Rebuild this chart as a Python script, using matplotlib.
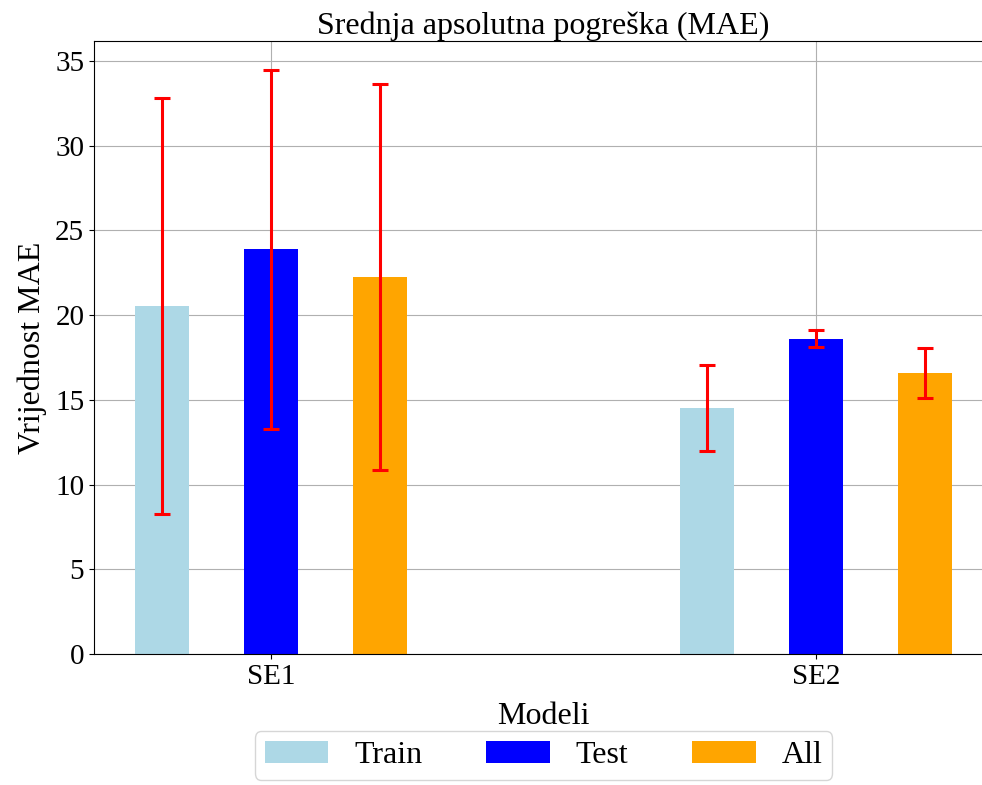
import numpy as np
from matplotlib import pyplot as plt

models = ['SE1', 'SE2']
series = ['Train', 'Test', 'All']
colors = ['lightblue', 'blue', 'orange']

train_mae = [20.54, 14.52]
test_mae = [23.87, 18.61]
all_mae = [22.24, 16.57]

train_std = [12.25, 2.52]
test_std = [10.58, 0.51]
all_std = [11.39, 1.48]

plt.rcParams['font.family'] = ['Liberation Serif', 'DejaVu Serif']
plt.rcParams['font.size'] = 21

fig = plt.figure(figsize=(9.82, 7.85), dpi=100)
ax = fig.add_axes([94 / 982, 131 / 785, 899 / 982, 613 / 785])
ax.set_axisbelow(True)

x = np.arange(len(models))
width = 0.1
offsets = [-0.2, 0.0, 0.2]
values = [train_mae, test_mae, all_mae]
errors = [train_std, test_std, all_std]

for off, vals, errs, name, col in zip(offsets, values, errors, series, colors):
    ax.bar(x + off, vals, width, yerr=errs, color=col, label=name,
           error_kw=dict(ecolor='red', elinewidth=2.2, capsize=5.8, capthick=2.2))

ax.set_xticks(x)
ax.set_xticklabels(models)
ax.set_title('Srednja apsolutna pogreška (MAE)', fontsize=23, pad=5)
ax.set_xlabel('Modeli', fontsize=23, labelpad=8.5)
ax.set_ylabel('Vrijednost MAE', fontsize=23, labelpad=6)
ax.grid(True)
ax.legend(loc='upper center', bbox_to_anchor=(0.5, -0.1), ncol=3, fontsize=23,
          borderpad=0.3)

fig.savefig('out.png', dpi=100)
